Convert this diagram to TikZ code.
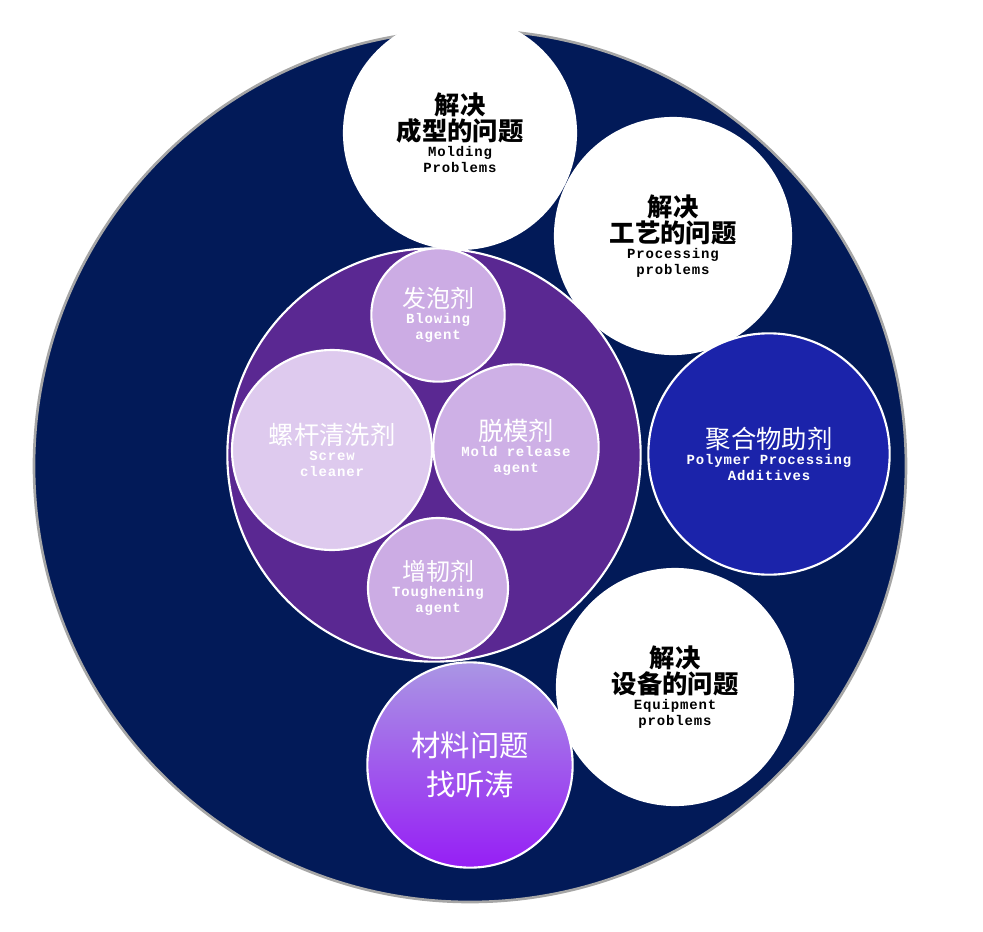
\documentclass[tikz,border=0pt]{standalone}
\usepackage{fontspec}
\newfontfamily\cjk{Noto Sans CJK SC}
\newfontfamily\cjkb{Noto Sans CJK SC}[BoldFont={* Bold}]
\newfontfamily\mono{Liberation Mono}[LetterSpace=6]
\newcommand\Cb[1]{{\cjk\bfseries\fontsize{19}{25}\selectfont #1}}
\newcommand\Cn[1]{{\cjk\fontsize{19}{25}\selectfont #1}}
\newcommand\Cs[1]{{\cjk\fontsize{18}{22}\selectfont #1}}
\newcommand\En[1]{{\mono\bfseries\fontsize{10.5}{14}\selectfont #1}}
\begin{document}
\begin{tikzpicture}[x=0.75pt,y=-0.75pt,
  bub/.style={circle,draw=white,line width=1.6pt,inner sep=0pt}]
\useasboundingbox (0,0) rectangle (983,932);
\node[circle,draw=gray!70,line width=2pt,fill={rgb,255:red,2;green,26;blue,88},minimum size=654pt] (big) at (470,466) {};
\node[bub,fill=white,minimum size=174pt] (mold) at (460,133) {};
\node[align=center,text=black] at (mold) {\Cb{解决}\\\Cb{成型的问题}\\\En{Molding}\\\En{Problems}};
\node[bub,fill=white,minimum size=177pt] (proc) at (673,236) {};
\node[align=center,text=black] at (proc) {\Cb{解决}\\\Cb{工艺的问题}\\\En{Processing}\\\En{problems}};
\node[bub,fill={rgb,255:red,27;green,35;blue,170},minimum size=181pt] (poly) at (769,454) {};
\node[align=center,text=white] at (poly) {\Cn{聚合物助剂}\\\En{Polymer Processing}\\\En{Additives}};
\node[bub,fill=white,minimum size=177pt] (equip) at (675,687) {};
\node[align=center,text=black] at (equip) {\Cb{解决}\\\Cb{设备的问题}\\\En{Equipment}\\\En{problems}};
\node[bub,fill={rgb,255:red,90;green,40;blue,146},minimum size=310pt] (add) at (434,455) {};
\node[bub,fill={rgb,255:red,204;green,172;blue,228},minimum size=100pt] (blow) at (438,315) {};
\node[align=center,text=white] at (blow) {\Cs{发泡剂}\\\En{Blowing}\\\En{agent}};
\node[bub,fill={rgb,255:red,222;green,202;blue,238},minimum size=150pt] (screw) at (332,450) {};
\node[align=center,text=white] at (screw) {\Cn{螺杆清洗剂}\\\En{Screw}\\\En{cleaner}};
\node[bub,fill={rgb,255:red,206;green,176;blue,230},minimum size=124pt] (rel) at (516,447) {};
\node[align=center,text=white] at (rel) {\Cn{脱模剂}\\\En{Mold release}\\\En{agent}};
\node[bub,fill={rgb,255:red,204;green,172;blue,228},minimum size=105pt] (tough) at (438,588) {};
\node[align=center,text=white] at (tough) {\Cs{增韧剂}\\\En{Toughening}\\\En{agent}};
\node[bub,top color={rgb,255:red,170;green,150;blue,228},bottom color={rgb,255:red,150;green,30;blue,245},minimum size=154pt] (mat) at (470,765) {};
\node[align=center,text=white,font=\cjk\fontsize{22}{29}\selectfont] at (mat) {材料问题\\找听涛};
\end{tikzpicture}
\end{document}
